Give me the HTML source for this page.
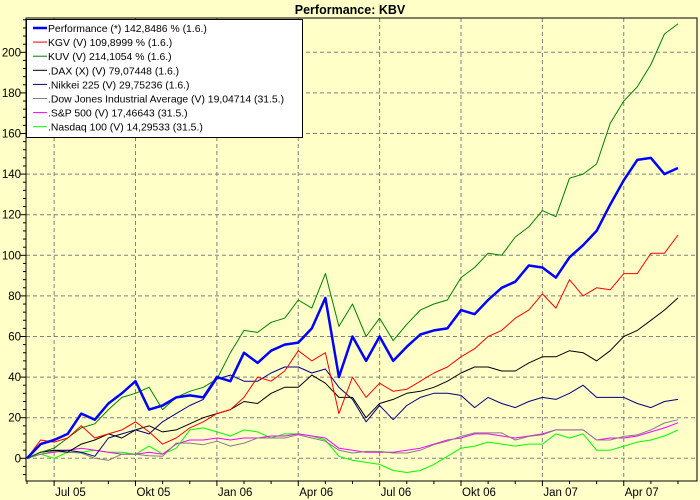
<!DOCTYPE html>
<html><head><meta charset="utf-8"><style>
html,body{margin:0;padding:0;background:#ffffc8;}
svg{display:block;font-family:"Liberation Sans",Arial,sans-serif;}
</style></head><body>
<svg id="chart" width="700" height="500" viewBox="0 0 700 500">
<rect x="0" y="0" width="700" height="500" fill="#ffffc8"/>
<text x="350" y="14" text-anchor="middle" font-size="12.5" font-weight="bold">Performance: KBV</text>
<g id="grid"></g>
<g id="series"></g>
<rect x="26" y="18" width="671" height="463" fill="none" stroke="#000" stroke-width="1"/>
<g id="axes"></g>
<g id="legend"></g>
</svg>
<script>
// months since 1 Jun 2005, half-month steps
const months = [0,0.5,1,1.5,2,2.5,3,3.5,4,4.5,5,5.5,6,6.5,7,7.5,8,8.5,9,9.5,10,10.5,11,11.5,12,12.5,13,13.5,14,14.5,15,15.5,16,16.5,17,17.5,18,18.5,19,19.5,20,20.5,21,21.5,22,22.5,23,23.5,24];
const performance = [0,7,9,12,22,19,27,32,38,24,26,30,31,30,40,38,52,47,53,56,57,64,79,40,60,48,60,48,55,61,63,64,73,71,78,84,87,95,94,89,99,105,112,125,137,147,148,140,143];
const kgv = [0,9,8,10,16,10,12,14,18,13,7,10,15,18,22,24,30,40,38,43,53,48,52,22,40,30,37,33,34,38,42,45,50,54,60,63,69,73,81,74,88,80,84,83,91,91,101,101,110];
const kuv = [0,3,5,10,15,17,24,30,32,35,24,30,33,35,39,52,63,62,67,69,78,74,91,65,76,60,69,58,66,73,76,78,89,94,101,100,109,114,122,119,138,140,145,165,176,183,194,209,214];
const dax = [0,3,4,3,7,9,12,10,14,16,13,14,17,20,22,24,28,27,32,35,35,41,37,30,30,20,27,29,32,33,35,38,42,45,45,43,43,47,50,50,53,52,48,53,60,63,68,73,79];
const nikkei = [0,3,4,4,3,1,10,12,14,12,18,22,26,29,39,41,38,38,42,45,45,42,44,35,29,18,26,19,26,30,32,32,31,25,30,27,25,28,30,29,32,36,30,30,30,27,25,28,29];
const dow = [0,2,3.4,3,2.6,0,-1,2,2,1.3,1,7.5,7.5,6.7,8.4,6,7.5,10,10,10,11.6,10,8.4,4,2.6,3.4,3.4,2.6,2.6,4,6.7,8.4,10.8,12.5,12.5,12.5,9,10.8,11.6,14,14,14,9,9,10.8,11.6,14,17.4,19];
const sp500 = [0,2,3,4,5,4,3,2,2,3,2,7,9,9,10,9,10,10,11,11,12,11,10,5,4,3,3,3,4,5,7,9,10,12,12,11,10,11,12,14,14,14,9,10,10,11,13,15,17.5];
const nasdaq = [0,2,0,3,3,4,3,3,2,6,2,5,14,15,13,11,14,13,10,12,12,11,9,1,-1,-2,-3,-6,-7,-6,-3,1,5,6,8,7,6,7,7,12,10,12,4,4,6,8,9,11,14];
const yTicks = [0,20,40,60,80,100,120,140,160,180,200];
const xTickMonths = [1,4,7,10,13,16,19,22];
const xTickLabels = ["Jul 05","Okt 05","Jan 06","Apr 06","Jul 06","Okt 06","Jan 07","Apr 07"];
const legendLabels = ["Performance (*) 142,8486 % (1.6.)","KGV (V) 109,8999 % (1.6.)","KUV (V) 214,1054 % (1.6.)",".DAX (X) (V) 79,07448 (1.6.)",".Nikkei 225 (V) 29,75236 (1.6.)",".Dow Jones Industrial Average (V) 19,04714 (31.5.)",".S&P 500 (V) 17,46643 (31.5.)",".Nasdaq 100 (V) 14,29533 (31.5.)"];

const NS="http://www.w3.org/2000/svg";
const X0=27, XM=27.125, Y0=458.3, YU=2.03;
function xs(m){return X0+m*XM;}
function ys(v){return Y0-v*YU;}
function mk(tag,attrs,parent){const e=document.createElementNS(NS,tag);for(const k in attrs)e.setAttribute(k,attrs[k]);parent.appendChild(e);return e;}

const grid=document.getElementById('grid'), axes=document.getElementById('axes');
yTicks.forEach(v=>{
  const y=ys(v);
  const g=mk('line',{x1:26,x2:697,y1:y,y2:y,stroke:'#808080','stroke-dasharray':'4,3'},grid);
  
  
  const t=mk('line',{x1:20,x2:26,y1:y,y2:y,stroke:'#000'},axes);
  
  
  const l=mk('text',{x:21,y:y+4,'text-anchor':'end','font-size':'11.5'},axes);
  l.textContent=v;
  
  
});
for(let v=-8;v<=216;v+=4){
  if(v%20===0)continue;
  const y=ys(v); if(y<18||y>481)continue;
  const t=mk('line',{x1:23,x2:26,y1:y,y2:y,stroke:'#000'},axes);
  
  
}
xTickMonths.forEach((m,i)=>{
  const x=xs(m);
  const g=mk('line',{x1:x,x2:x,y1:18,y2:481,stroke:'#808080','stroke-dasharray':'4,3'},grid);
  
  
  const t=mk('line',{x1:x,x2:x,y1:481,y2:486,stroke:'#000'},axes);
  
  
  const l=mk('text',{x:x+1,y:496,'font-size':'11.5'},axes);
  l.textContent=xTickLabels[i];
  
  
});
for(let m=0;m<=24;m++){
  if(xTickMonths.includes(m))continue;
  const x=xs(m);
  const t=mk('line',{x1:x,x2:x,y1:481,y2:484,stroke:'#000'},axes);
  
  
}

const seriesDefs=[
  {d:nasdaq,c:'#00ff00',w:1,n:'nasdaq-line'},
  {d:sp500,c:'#ff00ff',w:1,n:'sp500-line'},
  {d:dow,c:'#808080',w:1,n:'dow-line'},
  {d:nikkei,c:'#000080',w:1,n:'nikkei-line'},
  {d:dax,c:'#000000',w:1,n:'dax-line'},
  {d:kuv,c:'#008000',w:1,n:'kuv-line'},
  {d:kgv,c:'#ff0000',w:1,n:'kgv-line'},
  {d:performance,c:'#0000ff',w:2.5,n:'performance-line'}
];
const sg=document.getElementById('series');
seriesDefs.forEach(s=>{
  const pts=s.d.map((v,i)=>xs(months[i]).toFixed(1)+','+ys(v).toFixed(1)).join(' ');
  const p=mk('polyline',{points:pts,fill:'none',stroke:s.c,'stroke-width':s.w,'stroke-linejoin':'round'},sg);
  
  
});

const lg=document.getElementById('legend');
const lr=mk('rect',{x:26.5,y:19.5,width:276,height:118,fill:'#fff',stroke:'#000'},lg);


const legendColors=['#0000ff','#ff0000','#008000','#000000','#000080','#808080','#ff00ff','#00ff00'];
legendLabels.forEach((txt,i)=>{
  const y=28+i*14.1;
  const ln=mk('line',{x1:33,x2:47,y1:y,y2:y,stroke:legendColors[i],'stroke-width':i===0?2.5:1},lg);
  
  
  const t=mk('text',{x:48,y:y+4,'font-size':'10.4'},lg);
  t.textContent=txt;
  
  
});
</script>
</body></html>
